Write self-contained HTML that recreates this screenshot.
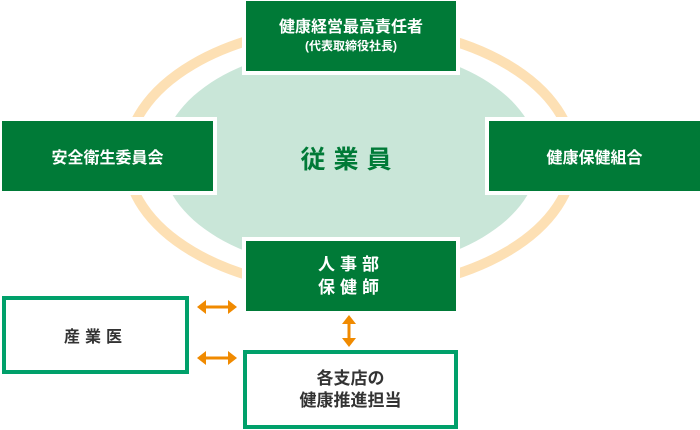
<!DOCTYPE html>
<html><head><meta charset="utf-8"><style>
body{margin:0;width:700px;height:430px;background:#fff;overflow:hidden;position:relative;font-family:"Liberation Sans","Noto Sans CJK JP",sans-serif;font-weight:bold}
.g{position:absolute;background:#007a37;color:#fff;display:flex;flex-direction:column;align-items:center;justify-content:center;box-shadow:0 0 0 4px #fff;text-align:center}
.o{position:absolute;border:4px solid #00a06a;box-sizing:border-box;background:#fff;color:#333;display:flex;flex-direction:column;align-items:center;justify-content:center;text-align:center}
</style></head><body>
<svg width="700" height="430" style="position:absolute;left:0;top:0">
<ellipse cx="350" cy="158" rx="223" ry="132" fill="none" stroke="#fde0b4" stroke-width="10"/>
<ellipse cx="350" cy="158" rx="188" ry="112" fill="#c9e6d8"/>
<g fill="#f08a00" stroke="#f08a00">
<line x1="204" y1="307" x2="230" y2="307" stroke-width="3"/>
<polygon points="197,307 206,300 206,314" stroke="none"/><polygon points="237,307 228,300 228,314" stroke="none"/>
<line x1="204" y1="358" x2="230" y2="358" stroke-width="3"/>
<polygon points="197,358 206,351 206,365" stroke="none"/><polygon points="237,358 228,351 228,365" stroke="none"/>
<line x1="349" y1="322" x2="349" y2="340" stroke-width="3"/>
<polygon points="349,315 342,324 356,324" stroke="none"/><polygon points="349,347 342,338 356,338" stroke="none"/>
</g>
</svg>
<div class="g" style="left:246px;top:1px;width:210px;height:70px"><div style="font-size:16px;line-height:20px">健康経営最高責任者</div><div style="font-size:12px;line-height:17px">(代表取締役社長)</div></div>
<div class="g" style="left:2px;top:121px;width:211px;height:70px;font-size:16px">安全衛生委員会</div>
<div class="g" style="left:489px;top:121px;width:211px;height:70px;font-size:16px">健康保健組合</div>
<div class="g" style="left:246px;top:241px;width:210px;height:70px;font-size:17px;line-height:23px;letter-spacing:5px"><div>人事部</div><div>保健師</div></div>
<div style="position:absolute;left:250px;top:140px;width:200px;text-align:center;color:#007a37;font-size:25px;letter-spacing:8px">従業員</div>
<div class="o" style="left:2px;top:296px;width:187px;height:78px;font-size:16px;letter-spacing:5px">産業医</div>
<div class="o" style="left:243px;top:350px;width:215px;height:79px;font-size:17px;line-height:22px"><div>各支店の</div><div>健康推進担当</div></div>
</body></html>
